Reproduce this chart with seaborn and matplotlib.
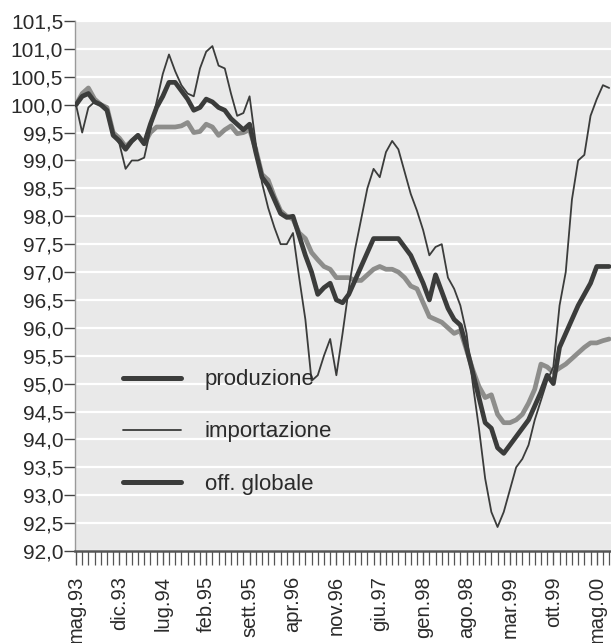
import numpy as np
import pandas as pd
import matplotlib
matplotlib.use("Agg")
import matplotlib.pyplot as plt
import seaborn as sns
from matplotlib.lines import Line2D
from matplotlib.ticker import FixedLocator

# ---------------- data ----------------
tick_labels = ["mag.93", "dic.93", "lug.94", "feb.95", "sett.95", "apr.96", "nov.96",
               "giu.97", "gen.98", "ago.98", "mar.99", "ott.99", "mag.00"]

produzione = [100.0, 100.2, 100.3, 100.1, 100.0, 99.95, 99.5, 99.4, 99.25, 99.35,
              99.45, 99.3, 99.5, 99.6, 99.6, 99.6, 99.6, 99.62, 99.68, 99.5,
              99.52, 99.65, 99.6, 99.45, 99.55, 99.62, 99.48, 99.5, 99.55, 99.2,
              98.75, 98.65, 98.35, 98.1, 98.0, 97.95, 97.7, 97.6, 97.35, 97.22,
              97.1, 97.05, 96.9, 96.9, 96.9, 96.85, 96.85, 96.95, 97.05, 97.1,
              97.05, 97.05, 97.0, 96.9, 96.75, 96.7, 96.45, 96.2, 96.15, 96.1,
              96.0, 95.9, 95.95, 95.6, 95.25, 94.95, 94.75, 94.8, 94.45, 94.3,
              94.3, 94.35, 94.45, 94.65, 94.9, 95.35, 95.3, 95.2, 95.28, 95.35,
              95.45, 95.55, 95.65, 95.73, 95.73, 95.77, 95.8]

importazione = [100.0, 99.5, 99.95, 100.05, 100.0, 99.9, 99.45, 99.3, 98.85, 99.0,
                99.0, 99.05, 99.55, 100.05, 100.55, 100.9, 100.6, 100.35, 100.2, 100.15,
                100.65, 100.95, 101.05, 100.7, 100.65, 100.2, 99.8, 99.85, 100.15, 99.3,
                98.6, 98.15, 97.8, 97.5, 97.5, 97.7, 96.9, 96.15, 95.05, 95.15,
                95.5, 95.8, 95.15, 95.9, 96.7, 97.4, 97.95, 98.5, 98.85, 98.7,
                99.15, 99.35, 99.2, 98.8, 98.4, 98.1, 97.75, 97.3, 97.45, 97.5,
                96.9, 96.7, 96.4, 95.9, 95.0, 94.2, 93.3, 92.7, 92.43, 92.7,
                93.1, 93.5, 93.65, 93.9, 94.35, 94.7, 95.05, 95.3, 96.4, 97.0,
                98.3, 99.0, 99.1, 99.8, 100.1, 100.35, 100.3]

off_globale = [100.0, 100.15, 100.2, 100.05, 100.0, 99.9, 99.45, 99.35, 99.2, 99.35,
               99.45, 99.3, 99.65, 99.95, 100.15, 100.4, 100.4, 100.25, 100.1, 99.9,
               99.95, 100.1, 100.05, 99.95, 99.9, 99.75, 99.65, 99.55, 99.65, 99.15,
               98.7, 98.55, 98.3, 98.05, 97.98, 98.0, 97.65, 97.3, 97.0, 96.6,
               96.72, 96.8, 96.5, 96.45, 96.6, 96.85, 97.1, 97.35, 97.6, 97.6,
               97.6, 97.6, 97.6, 97.45, 97.3, 97.05, 96.8, 96.5, 96.95, 96.65,
               96.35, 96.15, 96.05, 95.65, 95.2, 94.75, 94.3, 94.2, 93.85, 93.75,
               93.9, 94.05, 94.2, 94.35, 94.6, 94.85, 95.15, 95.0, 95.65, 95.9,
               96.15, 96.4, 96.6, 96.8, 97.1, 97.1, 97.1]

series_names = ["produzione", "importazione", "off. globale"]

months = np.arange(len(produzione))
y_ticks = np.arange(92.0, 101.51, 0.5)
x_tick_pos = np.arange(0, len(tick_labels) * 7, 7)

# ---------------- style ----------------
sns.set_style("white")
plt.rcParams["font.family"] = ["Liberation Sans", "DejaVu Sans"]

fig = plt.figure(figsize=(6.11, 6.43), dpi=100)
fig.patch.set_facecolor("white")
ax = fig.add_axes([75 / 611, 92 / 643, 536 / 611, 530 / 643])
ax.set_facecolor("#e9e9e9")

c_prod = "#8d8d8b"
c_dark = "#3b3c3b"

sns.lineplot(x=months, y=produzione, ax=ax, color=c_prod, linewidth=3.4,
             zorder=2, solid_joinstyle="round")
sns.lineplot(x=months, y=off_globale, ax=ax, color=c_dark, linewidth=3.4,
             zorder=3, solid_joinstyle="round")
sns.lineplot(x=months, y=importazione, ax=ax, color=c_dark, linewidth=1.3,
             zorder=4)

ax.set_xlim(-0.16, 86.3)
ax.set_ylim(92.0, 101.5)

# grid
ax.yaxis.set_major_locator(FixedLocator(y_ticks))
ax.set_yticklabels([f"{v:.1f}".replace(".", ",") for v in y_ticks])
ax.yaxis.grid(True, color="white", linewidth=1.6)
ax.xaxis.grid(False)
ax.set_axisbelow(True)

ax.set_xticks(x_tick_pos)
ax.set_xticklabels(tick_labels, rotation=90)
ax.set_xticks(months, minor=True)

for s in ["top", "right"]:
    ax.spines[s].set_visible(False)
ax.spines["left"].set_color("#9a9a9a")
ax.spines["left"].set_linewidth(1.0)
ax.spines["bottom"].set_color("#555555")
ax.spines["bottom"].set_linewidth(1.8)

ax.tick_params(axis="y", left=True, length=8, width=1.0, color="#444444", pad=0.5,
               labelsize=15, labelcolor="#2a2a2a")
ax.tick_params(axis="x", which="major", bottom=True, length=10, width=1.0,
               color="#555555", pad=8, labelsize=14.5, labelcolor="#2a2a2a")
ax.tick_params(axis="x", which="minor", bottom=True, length=10, width=0.9,
               color="#555555")
ax.set_xlabel("")
ax.set_ylabel("")

handles = [Line2D([], [], color=c_dark, linewidth=3.6),
           Line2D([], [], color=c_dark, linewidth=1.3),
           Line2D([], [], color=c_dark, linewidth=3.6)]
ax.legend(handles, series_names, loc="center left",
          bbox_to_anchor=(123 / 611, (643 - 432) / 643),
          bbox_transform=fig.transFigure, frameon=False,
          handlelength=2.6, handletextpad=1.08, labelspacing=1.4,
          borderpad=0, borderaxespad=0, fontsize=16, labelcolor="#2a2a2a")

fig.savefig("out.png", dpi=100)
